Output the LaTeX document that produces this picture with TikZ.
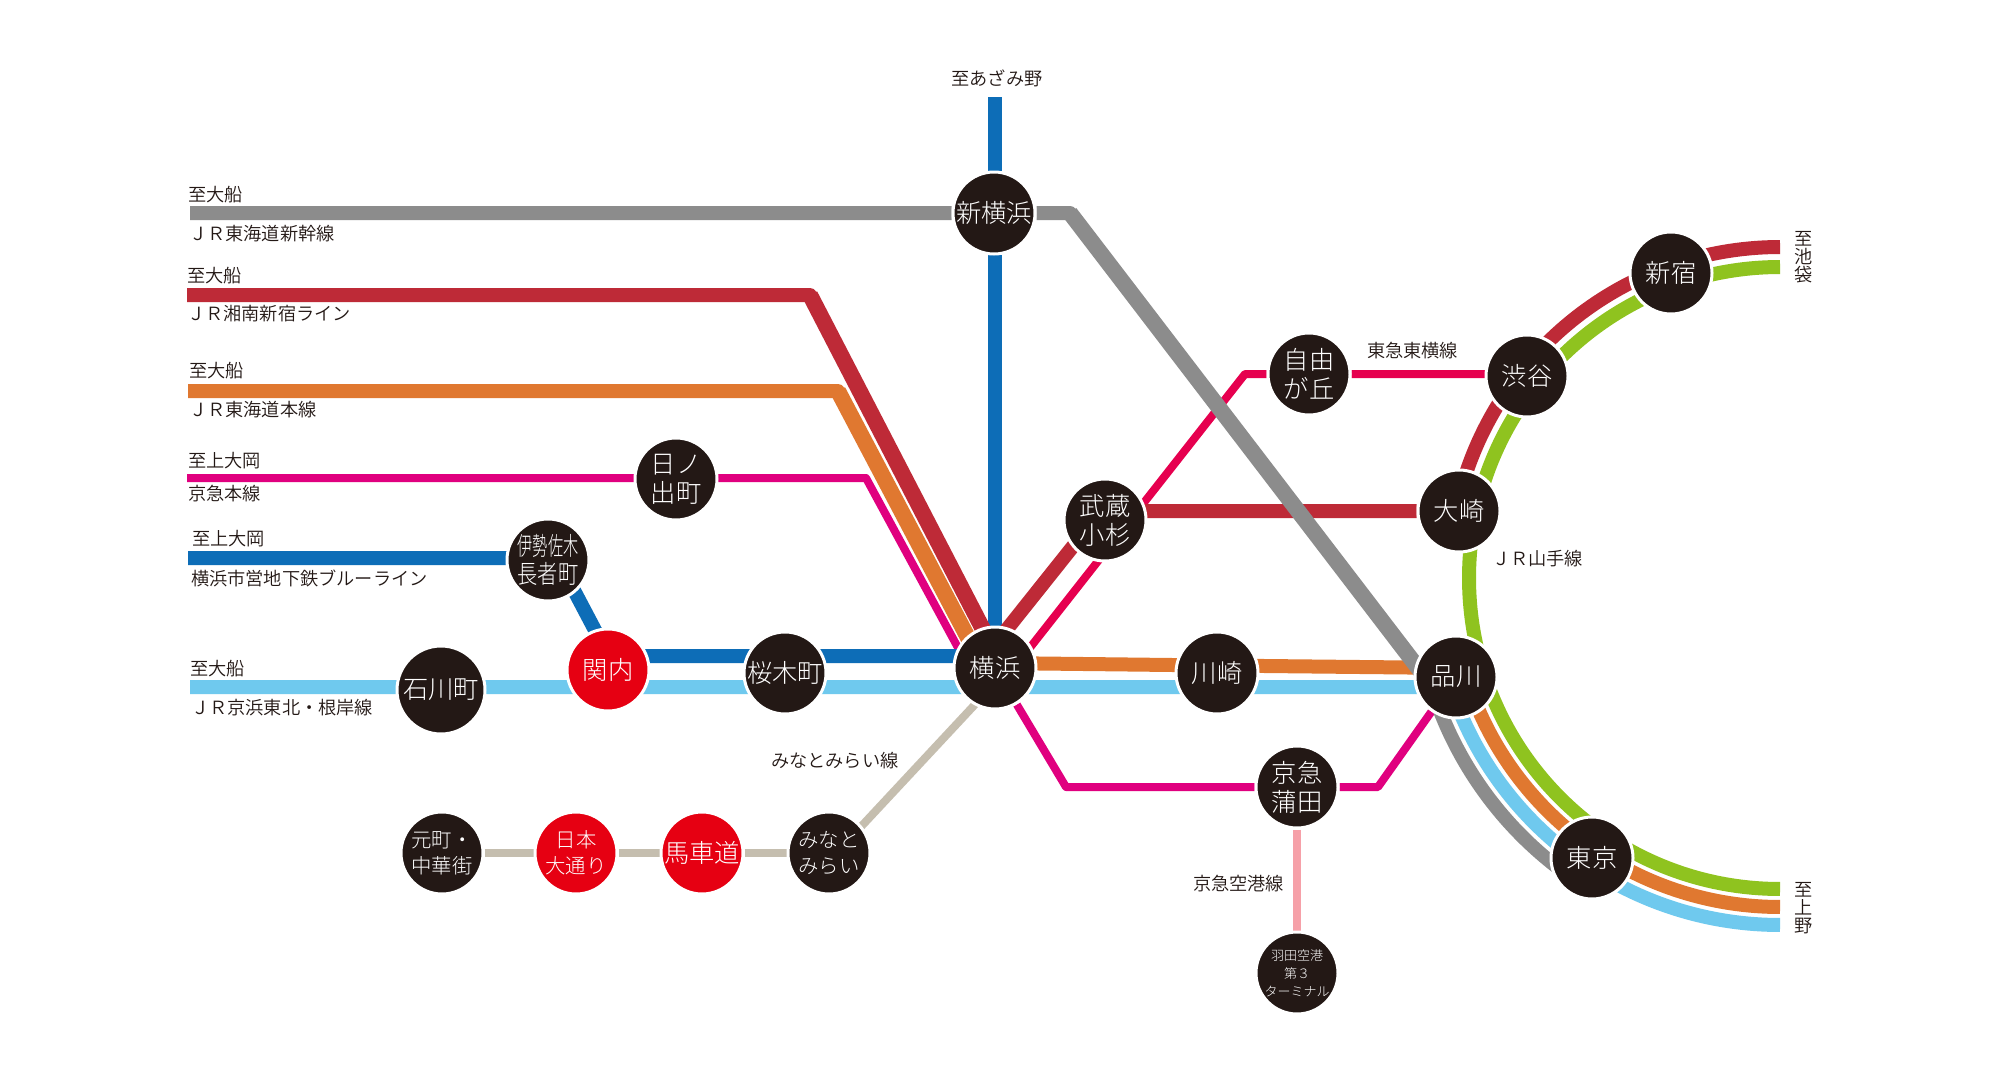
\documentclass[tikz,border=0pt]{standalone}
\usepackage{graphicx}
\usepackage{fontspec}
\setmainfont{Noto Sans CJK JP Light}
\newfontfamily\labelfont{Noto Sans CJK JP DemiLight}
\usetikzlibrary{backgrounds}
\definecolor{cGray}{HTML}{8C8C8C}
\definecolor{cRed}{HTML}{BE2A37}
\definecolor{cOrange}{HTML}{E07830}
\definecolor{cKeikyu}{HTML}{E0007F}
\definecolor{cBlue}{HTML}{0D6DB7}
\definecolor{cSky}{HTML}{6FC9EE}
\definecolor{cGreen}{HTML}{8FC31F}
\definecolor{cToyoko}{HTML}{E6004F}
\definecolor{cBeige}{HTML}{C5BEAF}
\definecolor{cAir}{HTML}{F6A0A8}
\definecolor{cInk}{HTML}{231815}
\definecolor{cStop}{HTML}{E60012}
\tikzset{
  wide/.style={line width=0.7cm,line cap=butt,line join=round},
  diag/.style={line width=0.8cm,line cap=butt},
  thin track/.style={line width=0.4cm,line cap=butt,line join=round},
  stn/.style={circle,fill=cInk,draw=white,line width=0.15cm,minimum size=4.1cm,inner sep=-1cm,align=center,text=white,font=\fontsize{36}{41}\selectfont},
  stnred/.style={stn,fill=cStop},
  small/.style={font=\fontsize{29}{37}\selectfont},
  tiny/.style={font=\fontsize{18.5}{25.6}\selectfont},
  lbl/.style={inner sep=0pt,anchor=west,text=cInk,font=\labelfont\fontsize{25.9}{26}\selectfont},
  stack/.style={inner sep=0pt,align=center,text=cInk,font=\labelfont\fontsize{25.9}{26}\selectfont}
}
\begin{document}
\begin{tikzpicture}[x=0.05cm,y=-0.05cm]
\useasboundingbox (0,0) rectangle (2000,1084);
% stations
\node[stn] (shinyoko) at (994,213) {新横浜};
\node[stn] (yokohama) at (995,668) {横浜};
\node[stn] (kosugi) at (1105,520) {武蔵\\小杉};
\node[stn] (kawasaki) at (1217,673) {川崎};
\node[stn] (kamata) at (1297,787) {京急\\蒲田};
\node[stn,tiny] (haneda) at (1297,973) {羽田空港\\第３\\ターミナル};
\node[stn] (jiyu) at (1309,374) {自由\\が丘};
\node[stn] (shibuya) at (1527,376) {渋谷};
\node[stn] (shinjuku) at (1671,273) {新宿};
\node[stn] (osaki) at (1459,511) {大崎};
\node[stn] (shinagawa) at (1456,677) {品川};
\node[stn] (tokyo) at (1592,858) {東京};
\node[stn] (hinode) at (676,479) {日ノ\\出町};
\node[stn] (isezaki) at (548,560) {\scalebox{.6}[1]{伊勢佐木}\\\scalebox{.8}[1]{長者町}};
\node[stnred] (kannai) at (608,670) {関内};
\node[stn] (sakuragi) at (785,673) {桜木町};
\node[stn,minimum size=4.4cm] (ishikawa) at (441,690) {石川町};
\node[stn,small] (motomachi) at (442,853) {元町・\\中華街};
\node[stnred,small] (nihon) at (576,853) {日本\\大通り};
\node[stnred] (bashamichi) at (702,853) {馬車道};
\node[stn,small] (minato) at (829,853) {みなと\\みらい};
% labels
\node[lbl,anchor=center] (l1) at (997,78) {至あざみ野};
\node[lbl] (l2) at (188,195) {至大船};
\node[lbl] (l3) at (189,234) {ＪＲ東海道新幹線};
\node[lbl] (l4) at (187,276) {至大船};
\node[lbl] (l5) at (187,314) {ＪＲ湘南新宿ライン};
\node[lbl] (l6) at (189,371) {至大船};
\node[lbl] (l7) at (189,410) {ＪＲ東海道本線};
\node[lbl] (l8) at (188,461) {至上大岡};
\node[lbl] (l9) at (188,494) {京急本線};
\node[lbl] (l10) at (192,539) {至上大岡};
\node[lbl] (l11) at (191,578) {横浜市営地下鉄ブルーライン};
\node[lbl] (l12) at (190,669) {至大船};
\node[lbl] (l13) at (191,708) {ＪＲ京浜東北・根岸線};
\node[lbl] (l14) at (771,761) {みなとみらい線};
\node[lbl] (l15) at (1193,884) {京急空港線};
\node[lbl] (l16) at (1367,351) {東急東横線};
\node[lbl] (l17) at (1492,559) {ＪＲ山手線};
\node[stack] (l18) at (1804,257) {至\\池\\袋};
\node[stack] (l19) at (1804,908) {至\\上\\野};
% free ends and bends
\coordinate (loop) at (1780,578);
\coordinate (grayW) at (190,213);
\coordinate (grayBend) at (1070,213);
\coordinate (grayArc) at ([shift={(197:18.25cm)}]loop);
\coordinate (redW) at (187,295);
\coordinate (redBend) at (810,295);
\coordinate (orangeW) at (188,391);
\coordinate (orangeBend) at (838,391);
\coordinate (keiW) at (187,478);
\coordinate (keiBend) at (866,478);
\coordinate (blueW) at (188,558);
\coordinate (skyW) at (190,687);
\coordinate (blueN) at (995,97);
\coordinate (kamataW) at (1066,787);
\coordinate (kamataE) at (1378,787);
\coordinate (toyoBend) at (1245,374);
\begin{pgfonlayer}{background}
\fill[white] (0,0) rectangle (2000,1084);
% Yamanote and arcs
\draw[wide,cGreen] ([shift={(90:15.55cm)}]loop) arc[start angle=90,end angle=270,radius=15.55cm];
\draw[wide,cRed] ([shift={(168:16.55cm)}]loop) arc[start angle=168,end angle=90,radius=16.55cm];
\draw[wide,cOrange] ([shift={(196:16.45cm)}]loop) arc[start angle=196,end angle=270,radius=16.45cm];
\draw[wide,cSky] ([shift={(196:17.35cm)}]loop) arc[start angle=196,end angle=270,radius=17.35cm];
% thin lines
\draw[thin track,cToyoko] ([xshift=0.95cm]yokohama.center) -- (toyoBend) -- (jiyu) -- ([yshift=0.1cm]shibuya.center);
\draw[thin track,cKeikyu] (keiW) -- ([yshift=0.05cm]hinode.center) -- (keiBend) -- ([xshift=-1.3cm]yokohama.center);
\draw[thin track,cKeikyu] (yokohama) -- (kamataW) -- (kamata) -- (kamataE) -- (shinagawa);
\draw[thin track,cAir] (kamata) -- (haneda);
\draw[thin track,cBeige] (motomachi) -- (nihon) -- (bashamichi) -- (minato);
\draw[thin track,cBeige] ([yshift=-0.4cm]minato.center) -- ([yshift=-0.75cm]yokohama.center);
% wide lines
\draw[wide,cSky] (skyW) -- ([yshift=0.15cm]ishikawa.center) -- ([yshift=-0.85cm]kannai.center) -- ([yshift=-0.7cm]sakuragi.center) -- ([yshift=-0.95cm]yokohama.center) -- ([yshift=-0.7cm]kawasaki.center) -- ([yshift=-0.5cm]shinagawa.center);
\draw[wide,cBlue] (blueW) -- ([yshift=0.1cm]isezaki.center);
\draw[wide,cBlue] ([xshift=0.5cm]isezaki.center) -- ([xshift=0.4cm]kannai.center);
\draw[wide,cBlue] ([yshift=0.7cm]kannai.center) -- ([yshift=0.85cm]sakuragi.center) -- ([yshift=0.6cm]yokohama.center);
\draw[wide,cBlue] (blueN) -- ([xshift=0.05cm]shinyoko.center) -- (yokohama);
\draw[wide,cOrange] (orangeW) -- (orangeBend) -- ([xshift=-0.55cm]yokohama.center);
\draw[diag,cOrange] (orangeBend) -- ([xshift=-0.55cm]yokohama.center);
\draw[wide,cRed] (redW) -- (redBend) -- ([xshift=0.4cm]yokohama.center);
\draw[diag,cRed] (redBend) -- ([xshift=0.4cm]yokohama.center);
\draw[wide,cOrange] ([yshift=0.25cm]yokohama.center) -- ([yshift=0.375cm]kawasaki.center) -- ([yshift=0.45cm]shinagawa.center);
\draw[wide,cRed] ([xshift=-0.95cm]yokohama.center) -- ([xshift=-0.55cm]kosugi.center);
\draw[wide,cRed] ([yshift=0.45cm]kosugi.center) -- (osaki);
\draw[wide,cGray] (grayW) -- (shinyoko) -- (grayBend) -- (grayArc) arc[start angle=197,end angle=238,radius=18.25cm];
\draw[diag,cGray] (grayBend) -- (grayArc);
\end{pgfonlayer}
\end{tikzpicture}
\end{document}
